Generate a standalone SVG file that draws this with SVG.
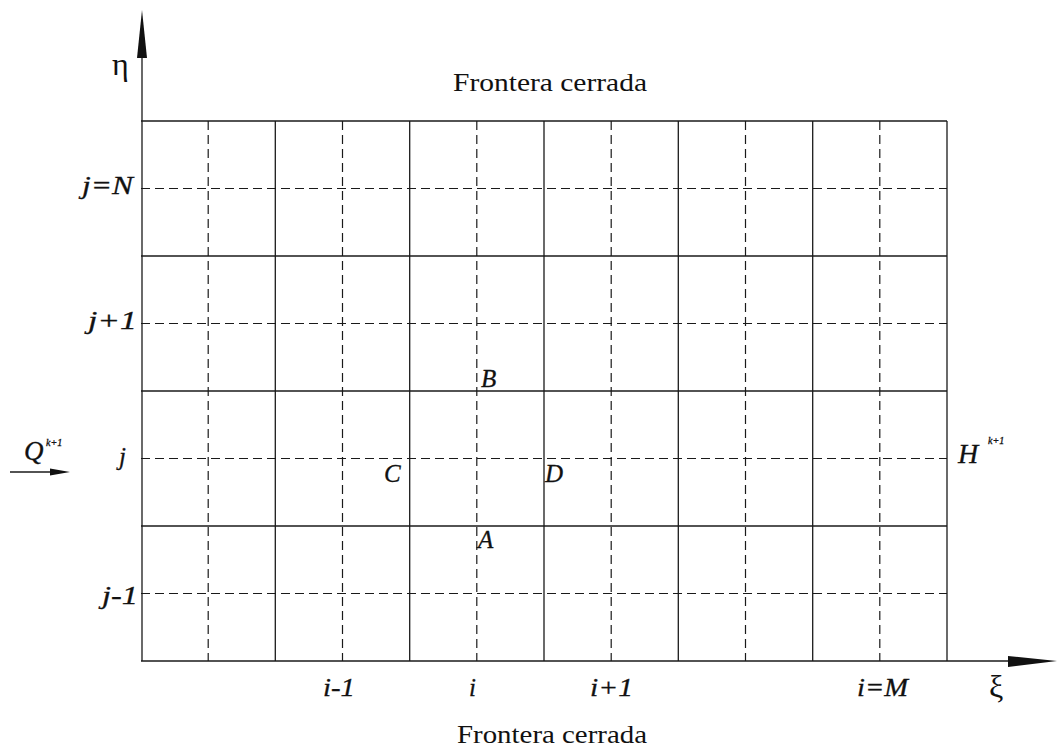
<svg xmlns="http://www.w3.org/2000/svg" width="1057" height="754" viewBox="0 0 1057 754">
<style>
.s{stroke:#1a1a1a;stroke-width:1.3;fill:none}
.d{stroke:#1a1a1a;stroke-width:1.2;fill:none;stroke-dasharray:9,5}
.t{font-family:"Liberation Serif","Times New Roman",serif;fill:#111}
.i{font-family:"Liberation Serif","Times New Roman",serif;font-style:italic;fill:#111;stroke:#111;stroke-width:0.3}
</style>
<rect width="1057" height="754" fill="#fff"/>
<g id="grid">
<g id="solid-lines" class="s">
<line x1="141" y1="121" x2="947" y2="121"/>
<line x1="141" y1="256" x2="947" y2="256"/>
<line x1="141" y1="391" x2="947" y2="391"/>
<line x1="141" y1="526" x2="947" y2="526"/>
<line x1="275.3" y1="121" x2="275.3" y2="661"/>
<line x1="409.7" y1="121" x2="409.7" y2="661"/>
<line x1="544" y1="121" x2="544" y2="661"/>
<line x1="678.3" y1="121" x2="678.3" y2="661"/>
<line x1="812.7" y1="121" x2="812.7" y2="661"/>
<line x1="947" y1="121" x2="947" y2="661"/>
</g>
<g id="dashed-lines" class="d">
<line x1="141" y1="188.5" x2="947" y2="188.5"/>
<line x1="141" y1="323.5" x2="947" y2="323.5"/>
<line x1="141" y1="458.5" x2="947" y2="458.5"/>
<line x1="141" y1="593.5" x2="947" y2="593.5"/>
<line x1="208.2" y1="121" x2="208.2" y2="661"/>
<line x1="342.5" y1="121" x2="342.5" y2="661"/>
<line x1="476.8" y1="121" x2="476.8" y2="661"/>
<line x1="611.2" y1="121" x2="611.2" y2="661"/>
<line x1="745.5" y1="121" x2="745.5" y2="661"/>
<line x1="879.8" y1="121" x2="879.8" y2="661"/>
</g>
</g>
<g id="connectors">
<g id="eta-axis">
<line class="s" x1="142" y1="50" x2="142" y2="661"/>
<polygon points="142,10 137,58 147,58" fill="#111"/>
</g>
<g id="xi-axis">
<line class="s" x1="141" y1="661" x2="1012" y2="661"/>
<polygon points="1057,661 1008,656 1008,667" fill="#111"/>
</g>
<g id="q-arrow">
<line class="s" x1="10" y1="472" x2="58" y2="472"/>
<polygon points="70,472 50,468.5 50,475.5" fill="#111"/>
</g>
</g>
<g id="labels">
<text class="t" x="112" y="75" font-size="32">η</text>
<text class="t" x="989" y="697" font-size="32">ξ</text>
<text class="t" x="550" y="91" font-size="25" text-anchor="middle" textLength="194" lengthAdjust="spacingAndGlyphs">Frontera cerrada</text>
<text class="t" x="552" y="743" font-size="25" text-anchor="middle" textLength="190" lengthAdjust="spacingAndGlyphs">Frontera cerrada</text>
<text class="i" x="82" y="194" font-size="25" textLength="51" lengthAdjust="spacingAndGlyphs">j=N</text>
<text class="i" x="88" y="329" font-size="25" textLength="49" lengthAdjust="spacingAndGlyphs">j+1</text>
<text class="i" x="119" y="465" font-size="25">j</text>
<text class="i" x="102" y="604" font-size="25" textLength="36" lengthAdjust="spacingAndGlyphs">j-1</text>
<text class="i" x="323" y="696" font-size="25" textLength="32" lengthAdjust="spacingAndGlyphs">i-1</text>
<text class="i" x="469" y="696" font-size="25">i</text>
<text class="i" x="590" y="696" font-size="25" textLength="43" lengthAdjust="spacingAndGlyphs">i+1</text>
<text class="i" x="857" y="696" font-size="25" textLength="51" lengthAdjust="spacingAndGlyphs">i=M</text>
<text class="i" x="481" y="387" font-size="25">B</text>
<text class="i" x="384" y="482" font-size="25">C</text>
<text class="i" x="545" y="482" font-size="25">D</text>
<text class="i" x="478" y="548" font-size="25">A</text>
<text class="i" x="24" y="460" font-size="27">Q</text>
<text class="i" x="46" y="446" font-size="10">k+1</text>
<text class="i" x="958" y="463" font-size="28">H</text>
<text class="i" x="988" y="444" font-size="10">k+1</text>
</g>
</svg>
